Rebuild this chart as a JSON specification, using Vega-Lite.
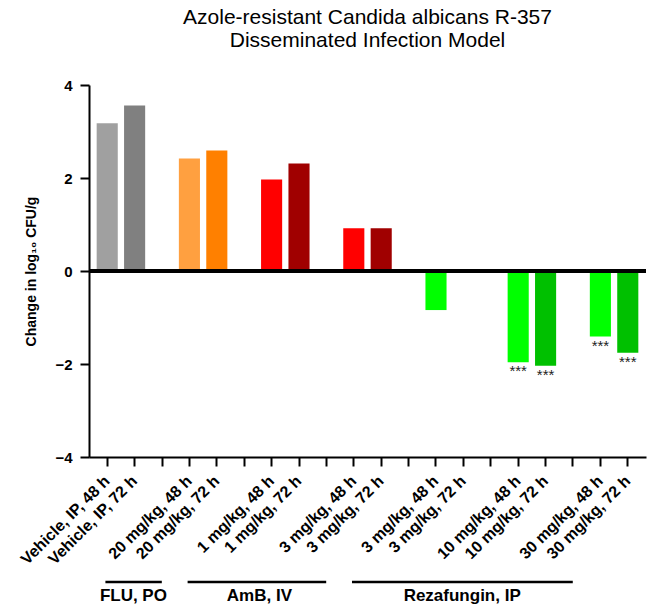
{
  "$schema": "https://vega.github.io/schema/vega-lite/v6.json",
  "autosize": {"type": "none"},
  "padding": {"left": 89, "top": 85, "right": 2, "bottom": 149},
  "width": 557,
  "height": 372,
  "title": {
    "text": ["Azole-resistant Candida albicans R-357", "Disseminated Infection Model"],
    "font": "Liberation Sans",
    "fontSize": 21,
    "fontWeight": "normal",
    "color": "black",
    "anchor": "middle",
    "baseline": "bottom",
    "lineHeight": 23,
    "offset": 6
  },
  "config": {
    "font": "Liberation Sans",
    "view": {"stroke": null},
    "axis": {"grid": false, "domainColor": "black", "tickColor": "black", "labelColor": "black", "titleColor": "black"}
  },
  "datasets": {
    "groups": [
      {"group": "FLU, PO", "first": "f|20 mg/kg, 48 h", "last": "f|20 mg/kg, 72 h", "mid": "f|20 mg/kg, 48 h", "between": true},
      {"group": "AmB, IV", "first": "a1|1 mg/kg, 48 h", "last": "a3|3 mg/kg, 72 h", "mid": "g3", "between": false},
      {"group": "Rezafungin, IP", "first": "r3|3 mg/kg, 48 h", "last": "r30|30 mg/kg, 72 h", "mid": "r10|10 mg/kg, 48 h", "between": true}
    ]
  },
  "data": {
    "values": [
      {"key": "v|Vehicle, IP, 48 h", "value": 3.18, "sig": ""},
      {"key": "v|Vehicle, IP, 72 h", "value": 3.56, "sig": ""},
      {"key": "f|20 mg/kg, 48 h", "value": 2.42, "sig": ""},
      {"key": "f|20 mg/kg, 72 h", "value": 2.59, "sig": ""},
      {"key": "a1|1 mg/kg, 48 h", "value": 1.97, "sig": ""},
      {"key": "a1|1 mg/kg, 72 h", "value": 2.31, "sig": ""},
      {"key": "a3|3 mg/kg, 48 h", "value": 0.92, "sig": ""},
      {"key": "a3|3 mg/kg, 72 h", "value": 0.92, "sig": ""},
      {"key": "r3|3 mg/kg, 48 h", "value": -0.84, "sig": ""},
      {"key": "r3|3 mg/kg, 72 h", "value": 0.04, "sig": ""},
      {"key": "r10|10 mg/kg, 48 h", "value": -1.96, "sig": "***"},
      {"key": "r10|10 mg/kg, 72 h", "value": -2.04, "sig": "***"},
      {"key": "r30|30 mg/kg, 48 h", "value": -1.41, "sig": "***"},
      {"key": "r30|30 mg/kg, 72 h", "value": -1.76, "sig": "***"}
    ]
  },
  "layer": [
    {
      "mark": {"type": "bar"},
      "encoding": {
        "x": {
          "field": "key", "type": "nominal", "sort": null,
          "scale": {
            "type": "band", "paddingInner": 0.23, "paddingOuter": 0.28,
            "domain": ["v|Vehicle, IP, 48 h", "v|Vehicle, IP, 72 h", "g1", "f|20 mg/kg, 48 h", "f|20 mg/kg, 72 h", "g2", "a1|1 mg/kg, 48 h", "a1|1 mg/kg, 72 h", "g3", "a3|3 mg/kg, 48 h", "a3|3 mg/kg, 72 h", "g4", "r3|3 mg/kg, 48 h", "r3|3 mg/kg, 72 h", "g5", "r10|10 mg/kg, 48 h", "r10|10 mg/kg, 72 h", "g6", "r30|30 mg/kg, 48 h", "r30|30 mg/kg, 72 h"]
          },
          "axis": {
            "title": null,
            "labelExpr": "indexof(datum.value, '|') < 0 ? '' : split(datum.value, '|')[1]",
            "labelAngle": -45,
            "labelAlign": "right",
            "labelBaseline": "middle",
            "labelFont": "Liberation Sans",
            "labelFontWeight": "bold",
            "labelFontSize": 16,
            "labelPadding": 12,
            "labelOverlap": false,
            "labelLimit": 300,
            "tickSize": 9,
            "tickWidth": 2,
            "domainWidth": 2
          }
        },
        "y": {
          "field": "value", "type": "quantitative",
          "scale": {"domain": [-4, 4], "nice": false, "zero": false},
          "axis": {
            "values": [-4, -2, 0, 2, 4],
            "title": "Change in log₁₀  CFU/g",
            "titleFont": "Liberation Sans",
            "titleFontWeight": "bold",
            "titleFontSize": 14,
            "titlePadding": 16,
            "labelFont": "Liberation Sans",
            "labelFontWeight": "bold",
            "labelFontSize": 15,
            "labelPadding": 8,
            "tickSize": 9,
            "tickWidth": 2,
            "domainWidth": 2
          }
        },
        "color": {
          "field": "key", "type": "nominal", "legend": null,
          "scale": {
            "domain": ["v|Vehicle, IP, 48 h", "v|Vehicle, IP, 72 h", "f|20 mg/kg, 48 h", "f|20 mg/kg, 72 h", "a1|1 mg/kg, 48 h", "a1|1 mg/kg, 72 h", "a3|3 mg/kg, 48 h", "a3|3 mg/kg, 72 h", "r3|3 mg/kg, 48 h", "r3|3 mg/kg, 72 h", "r10|10 mg/kg, 48 h", "r10|10 mg/kg, 72 h", "r30|30 mg/kg, 48 h", "r30|30 mg/kg, 72 h"],
            "range": ["#a0a0a0", "#808080", "#ffa040", "#ff8000", "#ff0000", "#a00000", "#ff0000", "#a00000", "#00ff00", "#00c000", "#00ff00", "#00c000", "#00ff00", "#00c000"]
          }
        }
      }
    },
    {
      "mark": {"type": "rule", "color": "black", "strokeWidth": 3},
      "encoding": {"y": {"datum": 0, "type": "quantitative"}}
    },
    {
      "transform": [{"filter": "datum.sig != ''"}],
      "mark": {"type": "text", "baseline": "top", "dy": 2, "fontSize": 15, "color": "#222222", "font": "Liberation Sans"},
      "encoding": {
        "x": {"field": "key", "type": "nominal", "title": null},
        "y": {"field": "value", "type": "quantitative"},
        "text": {"field": "sig"}
      }
    },
    {
      "data": {"name": "groups"},
      "mark": {"type": "rule", "color": "black", "strokeWidth": 2.5, "xOffset": -84, "x2Offset": -55, "yOffset": 125},
      "encoding": {
        "x": {"field": "first", "type": "nominal", "title": null},
        "x2": {"field": "last"},
        "y": {"datum": -4, "type": "quantitative"}
      }
    },
    {
      "data": {"name": "groups"},
      "transform": [{"filter": "!datum.between"}],
      "mark": {"type": "text", "font": "Liberation Sans", "fontWeight": "bold", "fontSize": 17, "color": "black", "align": "center", "baseline": "alphabetic", "dx": -67, "dy": 144},
      "encoding": {
        "x": {"field": "mid", "type": "nominal", "title": null},
        "y": {"datum": -4, "type": "quantitative"},
        "text": {"field": "group"}
      }
    },
    {
      "data": {"name": "groups"},
      "transform": [{"filter": "datum.between"}],
      "mark": {"type": "text", "font": "Liberation Sans", "fontWeight": "bold", "fontSize": 17, "color": "black", "align": "center", "baseline": "alphabetic", "dx": -56, "dy": 144},
      "encoding": {
        "x": {"field": "mid", "type": "nominal", "title": null},
        "y": {"datum": -4, "type": "quantitative"},
        "text": {"field": "group"}
      }
    }
  ]
}
